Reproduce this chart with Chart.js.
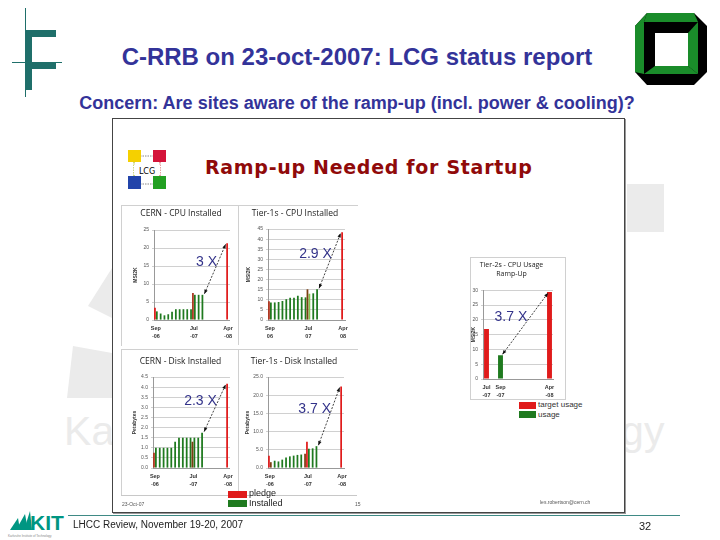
<!DOCTYPE html>
<html>
<head>
<meta charset="utf-8">
<script src="https://cdn.jsdelivr.net/npm/chart.js@4/dist/chart.umd.min.js"></script>
<style>
  body { margin: 0; background: #fff; }
  #slide { position: relative; width: 720px; height: 540px; overflow: hidden; font-family: "Liberation Sans", Arial, sans-serif; }
  .abs { position: absolute; }
  canvas { position: absolute; }
  .wm { color: #ebebeb; }
  .grey { background: #ebebeb; }
  .t { white-space: nowrap; }
</style>
</head>
<body>
<div id="slide">
  <!-- watermark -->
  <div class="abs t wm" style="left:64px;top:408px;font-size:41px;font-weight:300;letter-spacing:0.2px;">Karlsruhe Institute of Technology</div>
  <div class="abs grey" style="left:627px;top:184px;width:37px;height:48px;"></div>
  <svg class="abs" style="left:0;top:0" width="720" height="540">
    <polygon points="88,306 112,268 112,318" fill="#ebebeb"/>
    <polygon points="73,346 112,353 112,398 67,398" fill="#ebebeb"/>
  </svg>

  <!-- F logo top left -->
  <svg class="abs" style="left:0;top:0" width="80" height="110">
    <line x1="25.5" y1="8" x2="25.5" y2="97" stroke="#1f6f6a" stroke-width="1"/>
    <rect x="25" y="30" width="7" height="32" fill="#1f6f6a"/>
    <rect x="25" y="30" width="31" height="7" fill="#1f6f6a"/>
    <rect x="25" y="62" width="7" height="28" fill="#1f6f6a"/>
    <rect x="25" y="62" width="31" height="7" fill="#1f6f6a"/>
    <line x1="12" y1="62.5" x2="62" y2="62.5" stroke="#1f6f6a" stroke-width="1"/>
  </svg>

  <!-- octagon logo top right -->
  <svg class="abs" style="left:634px;top:12px" width="76" height="76">
    <polygon points="13,1 60,1 73,14 73,60 60,73 13,73 1,60 1,14" fill="#000"/>
    <polygon points="13,1 60,1 64,10 10,10" fill="#1a8c2a"/>
    <polygon points="1,14 13,1 10,10 1,24" fill="#1a8c2a"/>
    <polygon points="1,14 10,10 10,62 1,60" fill="#1a8c2a"/>
    <polygon points="54,21 64,10 64,62 54,54" fill="#1a8c2a"/>
    <polygon points="21,54 54,54 64,62 10,62" fill="#1a8c2a"/>
    <rect x="21" y="21" width="33" height="33" fill="#fff"/>
  </svg>

  <div class="abs t" style="left:0;width:714px;top:43px;text-align:center;font-size:24px;font-weight:bold;color:#333399;">C-RRB on 23-oct-2007: LCG status report</div>
  <div class="abs t" style="left:0;width:714px;top:93px;text-align:center;font-size:18px;font-weight:bold;color:#333399;">Concern: Are sites aware of the ramp-up (incl. power &amp; cooling)?</div>

  <!-- embedded picture frame -->
  <div class="abs" style="left:112px;top:118px;width:511px;height:393px;border:1px solid #444;background:#fff;box-shadow:1px 1px 0 #999;"></div>

  <!-- LCG logo -->
  <svg class="abs" style="left:126px;top:148px" width="44" height="44">
    <line x1="14" y1="8" x2="28" y2="8" stroke="#888" stroke-dasharray="1.5,1"/>
    <line x1="14" y1="36" x2="28" y2="36" stroke="#888" stroke-dasharray="1.5,1"/>
    <line x1="8" y1="14" x2="8" y2="30" stroke="#9a0" stroke-dasharray="1.5,1"/>
    <line x1="34" y1="14" x2="34" y2="30" stroke="#c44" stroke-dasharray="1.5,1"/>
    <rect x="2" y="2" width="13" height="12" fill="#f5d000"/>
    <rect x="27" y="2" width="13" height="12" fill="#d4143a"/>
    <rect x="2" y="28" width="13" height="13" fill="#2244aa"/>
    <rect x="27" y="28" width="13" height="13" fill="#22a022"/>
    <rect x="8" y="17" width="26" height="10" fill="#fff"/>
    <text x="21" y="25.5" font-size="8" text-anchor="middle" font-family="DejaVu Sans" fill="#000">LCG</text>
  </svg>
  <div class="abs t" style="left:205px;top:156px;font-family:'DejaVu Sans';font-size:19px;font-weight:bold;color:#900a0a;letter-spacing:0.7px;">Ramp-up Needed for Startup</div>

  <!-- panel borders -->
  <div class="abs" style="left:121px;top:205px;width:236px;height:140px;border-top:1px solid #d0d0d0;border-left:1px solid #d0d0d0;"></div>
  <div class="abs" style="left:238px;top:205px;width:1px;height:140px;background:#d0d0d0;"></div>
  <div class="abs" style="left:121px;top:349px;width:236px;height:145px;border-top:1px solid #d0d0d0;border-left:1px solid #d0d0d0;"></div>
  <div class="abs" style="left:238px;top:349px;width:1px;height:145px;background:#d0d0d0;"></div>
  <div class="abs" style="left:121px;top:495px;width:236px;height:1px;background:#c8c8c8;"></div>
  <div class="abs" style="left:470px;top:257px;width:94px;height:141px;border:1px solid #d0d0d0;"></div>

  <canvas id="c1" width="118" height="140" style="left:120px;top:205px"></canvas>
  <canvas id="c2" width="119" height="140" style="left:238px;top:205px"></canvas>
  <canvas id="c3" width="118" height="142" style="left:120px;top:350px"></canvas>
  <canvas id="c4" width="119" height="142" style="left:238px;top:350px"></canvas>
  <canvas id="c5" width="94" height="143" style="left:470px;top:257px"></canvas>

  <!-- legends -->
  <div class="abs" style="left:228px;top:491px;width:19px;height:7px;background:#e01b1b;"></div>
  <div class="abs t" style="left:249px;top:488px;font-size:9px;color:#222;">pledge</div>
  <div class="abs" style="left:228px;top:500px;width:19px;height:7px;background:#1f7a1f;"></div>
  <div class="abs t" style="left:249px;top:498px;font-size:9px;color:#222;">Installed</div>
  <div class="abs" style="left:519px;top:402px;width:17px;height:7px;background:#e01b1b;"></div>
  <div class="abs t" style="left:538px;top:400px;font-size:8px;color:#333;">target usage</div>
  <div class="abs" style="left:519px;top:411px;width:17px;height:7px;background:#1f7a1f;"></div>
  <div class="abs t" style="left:538px;top:410px;font-size:8px;color:#333;">usage</div>

  <div class="abs t" style="left:122px;top:501px;font-size:5px;color:#555;">23-Oct-07</div>
  <div class="abs t" style="left:355px;top:501px;font-size:5px;color:#555;">15</div>
  <div class="abs t" style="left:540px;top:499px;font-size:5px;color:#555;">les.robertson@cern.ch</div>

  <!-- footer -->
  <div class="abs" style="left:68px;top:515px;width:612px;height:1px;background:#3f8a85;"></div>
  <svg class="abs" style="left:6px;top:508px" width="60" height="32">
    <polygon points="4,22 12,10 14,22" fill="#009682"/>
    <polygon points="10,22 19,6 22,22" fill="#009682"/>
    <polygon points="18,22 24,3 26,22" fill="#009682"/>
    <text x="24" y="22" font-size="21" font-weight="bold" font-family="Liberation Sans Narrow, Liberation Sans" fill="#009682">KIT</text>
    <text x="2" y="29" font-size="3" fill="#888" font-family="Liberation Sans">Karlsruhe Institute of Technology</text>
  </svg>
  <div class="abs t" style="left:73px;top:519px;font-size:10px;color:#222;">LHCC Review, November 19-20, 2007</div>
  <div class="abs t" style="left:639px;top:520px;font-size:11px;color:#222;">32</div>
</div>

<script>
// month categories
const months = ['Sep-06', 'Oct-06', 'Nov-06', 'Dec-06', 'Jan-07', 'Feb-07', 'Mar-07', 'Apr-07', 'May-07', 'Jun-07',
                'Jul-07', 'Aug-07', 'Sep-07', 'Oct-07', 'Nov-07', 'Dec-07', 'Jan-08', 'Feb-08', 'Mar-08', 'Apr-08'];
const monthTicks = ['Sep-06', 'Jul-07', 'Apr-08'];
const t2Months = ['Jul-07', 'Aug-07', 'Sep-07', 'Oct-07', 'Nov-07', 'Dec-07', 'Jan-08', 'Feb-08', 'Mar-08', 'Apr-08'];
const t2Ticks = ['Jul-07', 'Sep-07', 'Apr-08'];

// CERN - CPU installed (MSI2K)
const cernCpuPledge    = [3.4, null, null, null, null, null, null, null, null, null, 7.5, null, null, null, null, null, null, null, null, 21.3];
const cernCpuInstalled = [2.4, 1.8, 1.3, 1.6, 2.3, 3.0, 3.0, 3.0, 3.0, 3.0, 7.0, 7.0, 7.0, null, null, null, null, null, null, null];
// Tier-1s - CPU installed (MSI2K)
const t1CpuPledge    = [9.3, null, null, null, null, null, null, null, null, null, 15.2, null, null, null, null, null, null, null, null, 43.4];
const t1CpuInstalled = [8.7, 8.7, 8.9, 9.4, 10.3, 11.0, 11.0, 12.0, 11.3, 11.2, 13.0, 13.2, 15.2, null, null, null, null, null, null, null];
// CERN - Disk installed (PB)
const cernDiskPledge    = [0.75, null, null, null, null, null, null, null, null, null, 1.3, null, null, null, null, null, null, null, null, 4.17];
const cernDiskInstalled = [1.0, 1.0, 1.0, 1.0, 1.0, 1.3, 1.5, 1.5, 1.5, 1.5, 1.5, 1.5, 1.75, null, null, null, null, null, null, null];
// Tier-1s - Disk installed (PB)
const t1DiskPledge    = [3.4, null, null, null, null, null, null, null, null, null, 7.2, null, null, null, null, null, null, null, null, 22.4];
const t1DiskInstalled = [1.6, 2.0, 1.8, 2.3, 2.9, 3.2, 3.4, 3.6, 3.7, 3.9, 5.3, 5.4, 6.0, null, null, null, null, null, null, null];
// Tier-2s - CPU usage ramp-up (MSI2K)
const t2Target = [16.9, null, null, null, null, null, null, null, null, 29.4];
const t2Usage  = [null, null, 8.0, null, null, null, null, null, null, null];

const RED = '#e01b1b', GREEN = '#1f7a1f', BROWN = '#7a3f12', LIGHT = '#7fc24a';

function paint(n, base, extra) {
  const out = [];
  for (let i = 0; i < n; i++) out.push(extra && extra[i] ? extra[i] : base);
  return out;
}

// dashed double arrow from a green bar top to the final pledge bar, with the factor label
const rampArrow = {
  id: 'rampArrow',
  afterDatasetsDraw(chart, args, o) {
    if (!o || !o.label) return;
    const a = chart.getDatasetMeta(o.from[0]).data[o.from[1]];
    const b = chart.getDatasetMeta(o.to[0]).data[o.to[1]];
    const x1 = a.x + 2, y1 = a.y - 1, x2 = b.x - 1.5, y2 = b.y + 1;
    const ctx = chart.ctx;
    ctx.save();
    ctx.strokeStyle = '#111';
    ctx.fillStyle = '#111';
    ctx.lineWidth = 0.8;
    ctx.setLineDash([2, 1.5]);
    ctx.beginPath(); ctx.moveTo(x1, y1); ctx.lineTo(x2, y2); ctx.stroke();
    ctx.setLineDash([]);
    const ang = Math.atan2(y2 - y1, x2 - x1);
    [[x1, y1, ang + Math.PI], [x2, y2, ang]].forEach(([x, y, t]) => {
      ctx.beginPath();
      ctx.moveTo(x, y);
      ctx.lineTo(x - 4.5 * Math.cos(t - 0.4), y - 4.5 * Math.sin(t - 0.4));
      ctx.lineTo(x - 4.5 * Math.cos(t + 0.4), y - 4.5 * Math.sin(t + 0.4));
      ctx.closePath(); ctx.fill();
    });
    ctx.font = '14px "Liberation Sans", Arial, sans-serif';
    ctx.fillStyle = '#33338a';
    ctx.textAlign = 'right';
    ctx.textBaseline = 'middle';
    ctx.fillText(o.label, (x1 + x2) / 2 + 2, (y1 + y2) / 2 - 7);
    ctx.restore();
  }
};
Chart.register(rampArrow);

function panel(id, cfg) {
  const ticks = cfg.ticks;
  new Chart(document.getElementById(id), {
    type: 'bar',
    data: {
      labels: cfg.labels,
      datasets: cfg.sets.map(s => ({
        data: s.data,
        backgroundColor: paint(cfg.labels.length, s.color, s.extra),
        grouped: cfg.grouped,
        categoryPercentage: 1.0,
        barPercentage: cfg.barPct
      }))
    },
    options: {
      responsive: false,
      devicePixelRatio: 1,
      animation: false,
      layout: { padding: { left: cfg.padLeft, right: cfg.padRight, top: 0, bottom: 0 } },
      plugins: {
        legend: { display: false },
        tooltip: { enabled: false },
        title: {
          display: true, text: cfg.title, color: '#222',
          font: { size: cfg.titleSize, family: '"Open Sans", "Liberation Sans", sans-serif', weight: 'normal', lineHeight: 1.3 },
          padding: cfg.titlePad
        },
        rampArrow: cfg.arrow
      },
      scales: {
        x: {
          grid: { display: false, drawTicks: false },
          border: { color: '#999' },
          afterFit: s => { s.height = cfg.xh; },
          ticks: {
            autoSkip: false, maxRotation: 0, padding: 5, color: '#333',
            font: { size: 5.5, weight: 'bold', family: '"Liberation Sans", sans-serif', lineHeight: 1.4 },
            callback: (v, i) => {
              const m = cfg.labels[i];
              if (!ticks.includes(m)) return '';
              const p = m.split('-');
              return [p[0], cfg.dash + p[1]];
            }
          }
        },
        y: {
          min: 0, max: cfg.max,
          afterFit: s => { s.width = cfg.yw; },
          grid: { color: '#c4c4c4', lineWidth: 0.8, tickLength: 2 },
          border: { color: '#999' },
          title: { display: true, text: cfg.yTitle, color: '#333', padding: 1,
                   font: { size: 5, weight: 'bold', family: '"Liberation Sans", sans-serif' } },
          ticks: {
            stepSize: cfg.step, padding: 3, color: '#555',
            font: { size: 5, family: '"Liberation Sans", sans-serif' },
            callback: v => v.toFixed(cfg.dec)
          }
        }
      }
    }
  });
}

panel('c1', {
  title: 'CERN - CPU Installed', yTitle: 'MSI2K', labels: months, ticks: monthTicks, dash: '-',
  sets: [{ data: cernCpuPledge, color: RED, extra: { 10: '#a8321c' } },
         { data: cernCpuInstalled, color: GREEN }],
  grouped: true, barPct: 0.92, max: 25, step: 5, dec: 0,
  padLeft: 12, yw: 22, xh: 25, padRight: 8, titleSize: 8.5, titlePad: { top: 3, bottom: 11 },
  arrow: { from: [1, 12], to: [0, 19], label: '3 X' }
});
panel('c2', {
  title: 'Tier-1s - CPU Installed', yTitle: 'MSI2K', labels: months, ticks: monthTicks, dash: '',
  sets: [{ data: t1CpuPledge, color: RED, extra: { 0: '#b0321c', 10: BROWN } },
         { data: t1CpuInstalled, color: GREEN, extra: { 10: LIGHT } }],
  grouped: true, barPct: 0.92, max: 45, step: 5, dec: 0,
  padLeft: 7, yw: 23, xh: 25, padRight: 12, titleSize: 8.5, titlePad: { top: 3, bottom: 10 },
  arrow: { from: [1, 12], to: [0, 19], label: '2.9 X' }
});
panel('c3', {
  title: 'CERN - Disk Installed', yTitle: 'Petabytes', labels: months, ticks: monthTicks, dash: '-',
  sets: [{ data: cernDiskPledge, color: RED, extra: { 0: '#b0321c', 10: BROWN } },
         { data: cernDiskInstalled, color: GREEN }],
  grouped: true, barPct: 0.92, max: 4.5, step: 0.5, dec: 1,
  padLeft: 11, yw: 22, xh: 24, padRight: 8, titleSize: 8.5, titlePad: { top: 6, bottom: 10 },
  arrow: { from: [1, 12], to: [0, 19], label: '2.3 X' }
});
panel('c4', {
  title: 'Tier-1s - Disk Installed', yTitle: 'Petabytes', labels: months, ticks: monthTicks, dash: '-',
  sets: [{ data: t1DiskPledge, color: RED },
         { data: t1DiskInstalled, color: GREEN, extra: { 0: BROWN, 9: BROWN } }],
  grouped: true, barPct: 0.92, max: 25, step: 5, dec: 1,
  padLeft: 6, yw: 24, xh: 24, padRight: 13, titleSize: 8.5, titlePad: { top: 6, bottom: 10 },
  arrow: { from: [1, 12], to: [0, 19], label: '3.7 X' }
});
panel('c5', {
  title: ['Tier-2s - CPU Usage', 'Ramp-Up'], yTitle: 'MSI2K', labels: t2Months, ticks: t2Ticks, dash: '-',
  sets: [{ data: t2Target, color: RED },
         { data: t2Usage, color: GREEN }],
  grouped: false, barPct: 0.7, max: 30, step: 5, dec: 0,
  padLeft: 0, yw: 13, xh: 21, padRight: 11, titleSize: 7, titlePad: { top: 3, bottom: 12 },
  arrow: { from: [1, 2], to: [0, 9], label: '3.7 X' }
});
</script>
</body>
</html>
